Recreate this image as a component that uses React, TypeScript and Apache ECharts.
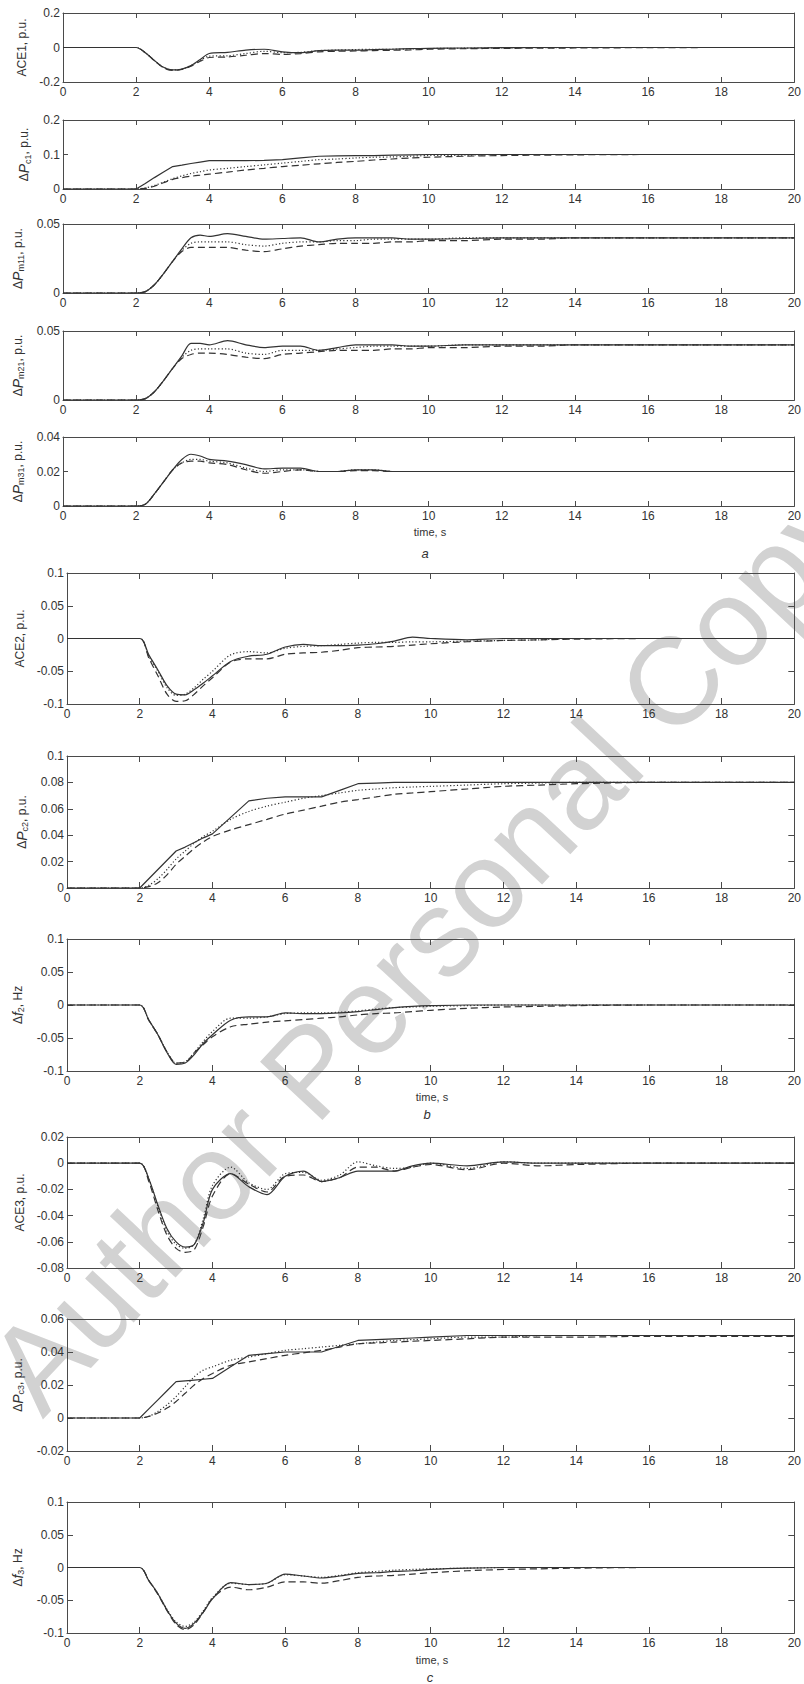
import React, { useEffect, useRef } from "react";
import * as echarts from "echarts";

// ---------- DATA ----------
// time samples, s
const T = [0, 2, 2.25, 2.5, 2.75, 3, 3.25, 3.5, 3.75, 4, 4.5, 5, 5.5, 6, 6.5, 7, 7.5, 8, 8.5, 9, 9.5, 10, 11, 12, 13, 14, 16, 18, 20];

// (a) area 1
const ace1Solid = [0, 0, -0.03, -0.075, -0.115, -0.13, -0.125, -0.105, -0.07, -0.035, -0.028, -0.015, -0.01, -0.025, -0.03, -0.018, -0.015, -0.015, -0.012, -0.01, -0.007, -0.005, -0.003, -0.001, 0, 0, 0, 0, 0];
const ace1Dotted = [0, 0, -0.03, -0.075, -0.115, -0.13, -0.125, -0.105, -0.075, -0.05, -0.048, -0.035, -0.022, -0.03, -0.028, -0.018, -0.015, -0.012, -0.01, -0.01, -0.008, -0.006, -0.004, -0.002, -0.001, 0, 0, 0, 0];
const ace1Dashed = [0, 0, -0.03, -0.077, -0.118, -0.133, -0.127, -0.108, -0.08, -0.058, -0.055, -0.045, -0.035, -0.04, -0.035, -0.025, -0.022, -0.02, -0.018, -0.016, -0.014, -0.01, -0.007, -0.005, -0.004, -0.003, -0.001, 0, 0];

const pc1Solid = [0, 0, 0.016, 0.033, 0.049, 0.065, 0.069, 0.074, 0.078, 0.082, 0.082, 0.082, 0.083, 0.085, 0.09, 0.095, 0.096, 0.097, 0.097, 0.098, 0.099, 0.1, 0.1, 0.1, 0.1, 0.1, 0.1, 0.1, 0.1];
const pc1Dotted = [0, 0, 0.003, 0.01, 0.02, 0.03, 0.038, 0.045, 0.05, 0.055, 0.06, 0.065, 0.07, 0.075, 0.08, 0.085, 0.087, 0.09, 0.092, 0.093, 0.095, 0.097, 0.098, 0.1, 0.1, 0.1, 0.1, 0.1, 0.1];
const pc1Dashed = [0, 0, 0.002, 0.008, 0.018, 0.028, 0.033, 0.037, 0.04, 0.043, 0.049, 0.055, 0.06, 0.065, 0.069, 0.073, 0.077, 0.08, 0.084, 0.087, 0.09, 0.092, 0.095, 0.097, 0.098, 0.099, 0.1, 0.1, 0.1];

const pm11Solid = [0, 0, 0.001, 0.006, 0.014, 0.023, 0.032, 0.04, 0.042, 0.041, 0.043, 0.041, 0.039, 0.0395, 0.04, 0.037, 0.039, 0.04, 0.04, 0.04, 0.039, 0.039, 0.0395, 0.04, 0.04, 0.04, 0.04, 0.04, 0.04];
const pm11Dotted = [0, 0, 0.001, 0.006, 0.014, 0.023, 0.031, 0.036, 0.037, 0.037, 0.037, 0.035, 0.034, 0.036, 0.037, 0.037, 0.038, 0.038, 0.039, 0.039, 0.039, 0.039, 0.04, 0.04, 0.04, 0.04, 0.04, 0.04, 0.04];
const pm11Dashed = [0, 0, 0.001, 0.006, 0.014, 0.023, 0.03, 0.033, 0.033, 0.033, 0.033, 0.031, 0.03, 0.032, 0.034, 0.035, 0.036, 0.036, 0.036, 0.037, 0.037, 0.038, 0.038, 0.039, 0.039, 0.04, 0.04, 0.04, 0.04];

const pm21Solid = [0, 0, 0.001, 0.006, 0.014, 0.023, 0.032, 0.041, 0.041, 0.04, 0.043, 0.04, 0.038, 0.039, 0.039, 0.036, 0.038, 0.04, 0.04, 0.04, 0.039, 0.039, 0.04, 0.04, 0.04, 0.04, 0.04, 0.04, 0.04];
const pm21Dotted = [0, 0, 0.001, 0.006, 0.014, 0.023, 0.031, 0.036, 0.037, 0.037, 0.037, 0.034, 0.033, 0.036, 0.036, 0.036, 0.037, 0.038, 0.039, 0.039, 0.039, 0.039, 0.04, 0.04, 0.04, 0.04, 0.04, 0.04, 0.04];
const pm21Dashed = [0, 0, 0.001, 0.006, 0.014, 0.023, 0.03, 0.033, 0.034, 0.034, 0.033, 0.031, 0.03, 0.033, 0.034, 0.035, 0.036, 0.036, 0.036, 0.037, 0.037, 0.038, 0.038, 0.039, 0.039, 0.04, 0.04, 0.04, 0.04];

const pm31Solid = [0, 0, 0.001, 0.007, 0.014, 0.021, 0.027, 0.03, 0.029, 0.027, 0.026, 0.024, 0.0215, 0.022, 0.022, 0.02, 0.02, 0.021, 0.021, 0.02, 0.02, 0.02, 0.02, 0.02, 0.02, 0.02, 0.02, 0.02, 0.02];
const pm31Dotted = [0, 0, 0.001, 0.007, 0.014, 0.021, 0.025, 0.027, 0.027, 0.026, 0.025, 0.022, 0.02, 0.021, 0.021, 0.02, 0.02, 0.021, 0.021, 0.02, 0.02, 0.02, 0.02, 0.02, 0.02, 0.02, 0.02, 0.02, 0.02];
const pm31Dashed = [0, 0, 0.001, 0.007, 0.014, 0.021, 0.025, 0.026, 0.026, 0.025, 0.024, 0.021, 0.019, 0.02, 0.021, 0.02, 0.02, 0.0205, 0.0205, 0.02, 0.02, 0.02, 0.02, 0.02, 0.02, 0.02, 0.02, 0.02, 0.02];

// (b) area 2
const ace2Solid = [0, 0, -0.025, -0.048, -0.072, -0.085, -0.086, -0.078, -0.068, -0.057, -0.035, -0.027, -0.024, -0.013, -0.009, -0.011, -0.011, -0.01, -0.008, -0.004, 0.002, 0, -0.002, 0, 0, 0, 0, 0, 0];
const ace2Dotted = [0, 0, -0.027, -0.05, -0.075, -0.087, -0.085, -0.075, -0.062, -0.05, -0.025, -0.02, -0.022, -0.015, -0.012, -0.011, -0.009, -0.007, -0.006, -0.006, -0.005, -0.005, -0.004, -0.003, -0.002, 0, 0, 0, 0];
const ace2Dashed = [0, 0, -0.03, -0.057, -0.085, -0.096, -0.095, -0.085, -0.072, -0.06, -0.036, -0.031, -0.031, -0.024, -0.022, -0.021, -0.018, -0.014, -0.013, -0.012, -0.01, -0.008, -0.005, -0.003, -0.002, -0.001, 0, 0, 0];

const pc2Solid = [0, 0, 0.007, 0.014, 0.021, 0.028, 0.031, 0.0345, 0.038, 0.041, 0.0535, 0.066, 0.068, 0.069, 0.069, 0.069, 0.074, 0.079, 0.0795, 0.08, 0.08, 0.08, 0.08, 0.08, 0.08, 0.08, 0.08, 0.08, 0.08];
const pc2Dotted = [0, 0, 0.002, 0.007, 0.014, 0.022, 0.028, 0.034, 0.039, 0.043, 0.052, 0.058, 0.062, 0.065, 0.068, 0.07, 0.072, 0.074, 0.075, 0.076, 0.0765, 0.077, 0.078, 0.079, 0.0795, 0.08, 0.08, 0.08, 0.08];
const pc2Dashed = [0, 0, 0.001, 0.004, 0.01, 0.018, 0.024, 0.03, 0.035, 0.039, 0.044, 0.048, 0.052, 0.056, 0.059, 0.062, 0.065, 0.067, 0.069, 0.071, 0.072, 0.073, 0.075, 0.077, 0.078, 0.079, 0.08, 0.08, 0.08];

const f2Solid = [0, 0, -0.023, -0.045, -0.072, -0.09, -0.088, -0.075, -0.058, -0.045, -0.023, -0.018, -0.018, -0.012, -0.013, -0.013, -0.012, -0.01, -0.007, -0.004, -0.002, -0.001, 0, 0, 0, 0, 0, 0, 0];
const f2Dotted = [0, 0, -0.023, -0.045, -0.071, -0.088, -0.086, -0.072, -0.055, -0.04, -0.02, -0.02, -0.018, -0.013, -0.012, -0.012, -0.011, -0.009, -0.006, -0.004, -0.003, -0.002, -0.001, 0, 0, 0, 0, 0, 0];
const f2Dashed = [0, 0, -0.023, -0.045, -0.071, -0.088, -0.087, -0.072, -0.06, -0.048, -0.033, -0.029, -0.026, -0.024, -0.022, -0.02, -0.018, -0.015, -0.013, -0.012, -0.01, -0.008, -0.005, -0.003, -0.002, -0.001, 0, 0, 0];

// (c) area 3
const ace3Solid = [0, 0, -0.012, -0.032, -0.05, -0.06, -0.064, -0.062, -0.045, -0.02, -0.008, -0.018, -0.024, -0.01, -0.006, -0.014, -0.011, -0.006, -0.006, -0.006, -0.002, 0, -0.002, 0.001, 0, 0, 0, 0, 0];
const ace3Dotted = [0, 0, -0.012, -0.033, -0.052, -0.062, -0.065, -0.062, -0.042, -0.017, -0.003, -0.015, -0.02, -0.008, -0.007, -0.013, -0.009, 0.001, -0.002, -0.004, -0.003, 0, -0.004, 0.001, 0, 0, 0, 0, 0];
const ace3Dashed = [0, 0, -0.014, -0.036, -0.055, -0.065, -0.068, -0.066, -0.048, -0.025, -0.008, -0.016, -0.022, -0.01, -0.009, -0.014, -0.011, -0.003, -0.003, -0.006, -0.003, -0.001, -0.005, 0, -0.002, -0.001, 0, 0, 0];

const pc3Solid = [0, 0, 0.0055, 0.011, 0.0165, 0.022, 0.0225, 0.023, 0.0235, 0.024, 0.031, 0.038, 0.039, 0.04, 0.04, 0.04, 0.0435, 0.047, 0.0475, 0.048, 0.0485, 0.049, 0.05, 0.05, 0.05, 0.05, 0.05, 0.05, 0.05];
const pc3Dotted = [0, 0, 0.001, 0.004, 0.008, 0.013, 0.019, 0.025, 0.029, 0.031, 0.035, 0.037, 0.039, 0.041, 0.042, 0.043, 0.044, 0.045, 0.046, 0.047, 0.0475, 0.048, 0.049, 0.049, 0.05, 0.05, 0.05, 0.05, 0.05];
const pc3Dashed = [0, 0, 0.001, 0.003, 0.006, 0.01, 0.015, 0.02, 0.024, 0.027, 0.032, 0.034, 0.036, 0.038, 0.0395, 0.041, 0.043, 0.045, 0.0455, 0.046, 0.0465, 0.047, 0.048, 0.049, 0.049, 0.049, 0.0495, 0.0495, 0.0495];

const f3Solid = [0, 0, -0.02, -0.04, -0.065, -0.085, -0.093, -0.085, -0.068, -0.048, -0.023, -0.026, -0.024, -0.01, -0.013, -0.016, -0.013, -0.009, -0.008, -0.006, -0.005, -0.003, -0.001, 0, 0, 0, 0, 0, 0];
const f3Dotted = [0, 0, -0.02, -0.04, -0.064, -0.083, -0.09, -0.083, -0.066, -0.046, -0.024, -0.026, -0.024, -0.011, -0.013, -0.015, -0.012, -0.008, -0.006, -0.004, -0.003, -0.002, -0.001, 0, 0, 0, 0, 0, 0];
const f3Dashed = [0, 0, -0.02, -0.041, -0.066, -0.087, -0.095, -0.087, -0.068, -0.047, -0.03, -0.034, -0.03, -0.022, -0.022, -0.024, -0.02, -0.015, -0.013, -0.012, -0.01, -0.008, -0.005, -0.003, -0.002, -0.001, 0, 0, 0];

// y-axis labels
const Y_LABELS = [
  "{n|ACE1, p.u.}",
  "{n|Δ}{i|P}{s|c1}{n|, p.u.}",
  "{n|Δ}{i|P}{s|m11}{n|, p.u.}",
  "{n|Δ}{i|P}{s|m21}{n|, p.u.}",
  "{n|Δ}{i|P}{s|m31}{n|, p.u.}",
  "{n|ACE2, p.u.}",
  "{n|Δ}{i|P}{s|c2}{n|, p.u.}",
  "{n|Δ}{i|f}{s|2}{n|, Hz}",
  "{n|ACE3, p.u.}",
  "{n|Δ}{i|P}{s|c3}{n|, p.u.}",
  "{n|Δ}{i|f}{s|3}{n|, Hz}",
];
// y-axis ranges [min, max, interval]
const Y_RANGES = [
  [-0.2, 0.2, 0.2],
  [0, 0.2, 0.1],
  [0, 0.05, 0.05],
  [0, 0.05, 0.05],
  [0, 0.04, 0.02],
  [-0.1, 0.1, 0.05],
  [0, 0.1, 0.02],
  [-0.1, 0.1, 0.05],
  [-0.08, 0.02, 0.02],
  [-0.02, 0.06, 0.02],
  [-0.1, 0.1, 0.05],
];
const SERIES_SETS = [
  [ace1Solid, ace1Dotted, ace1Dashed],
  [pc1Solid, pc1Dotted, pc1Dashed],
  [pm11Solid, pm11Dotted, pm11Dashed],
  [pm21Solid, pm21Dotted, pm21Dashed],
  [pm31Solid, pm31Dotted, pm31Dashed],
  [ace2Solid, ace2Dotted, ace2Dashed],
  [pc2Solid, pc2Dotted, pc2Dashed],
  [f2Solid, f2Dotted, f2Dashed],
  [ace3Solid, ace3Dotted, ace3Dashed],
  [pc3Solid, pc3Dotted, pc3Dashed],
  [f3Solid, f3Dotted, f3Dashed],
];
// solid lines of the controller outputs are piecewise linear
const SOLID_LINEAR = [false, true, false, false, false, false, true, false, false, true, false];

const X_LABEL = "time, s";
const PANEL_LETTERS = ["a", "b", "c"];

// ---------- LAYOUT / STYLE ----------
const FONT = '"Liberation Sans", Arial, sans-serif';
const LINE = "#333333";
const AXIS = "#4a4a4a";
const TXT = "#333333";

const GRIDS = [
  { left: 63, top: 13, width: 734, height: 69, gap: 27, tick: 5 },
  { left: 63, top: 120, width: 734, height: 69, gap: 27, tick: 5 },
  { left: 63, top: 224, width: 734, height: 69, gap: 27, tick: 5 },
  { left: 63, top: 331, width: 734, height: 69, gap: 27, tick: 5 },
  { left: 63, top: 437, width: 734, height: 69, gap: 27, tick: 5 },
  { left: 67, top: 573, width: 730, height: 131, gap: 34, tick: 6 },
  { left: 67, top: 756, width: 730, height: 132, gap: 34, tick: 6 },
  { left: 67, top: 939, width: 730, height: 132, gap: 36, tick: 6 },
  { left: 67, top: 1137, width: 730, height: 131, gap: 36, tick: 6 },
  { left: 67, top: 1319, width: 730, height: 132, gap: 34, tick: 6 },
  { left: 67, top: 1502, width: 730, height: 131, gap: 36, tick: 6 },
];

export default function App() {
  const ref = useRef<HTMLDivElement>(null);

  useEffect(() => {
    if (!ref.current) return;
    const chart = echarts.init(ref.current, null, { renderer: "svg" });

    const rich = {
      n: { fontSize: 12, fontFamily: FONT, color: TXT, lineHeight: 16, verticalAlign: "middle" },
      i: { fontSize: 14, fontFamily: FONT, fontStyle: "italic", color: TXT, lineHeight: 16, verticalAlign: "middle" },
      s: { fontSize: 9, fontFamily: FONT, color: TXT, lineHeight: 10, verticalAlign: "bottom" },
    };

    const grid: any[] = [];
    const xAxis: any[] = [];
    const yAxis: any[] = [];
    const series: any[] = [];

    GRIDS.forEach((g, p) => {
      grid.push({ left: g.left, top: g.top, width: g.width, height: g.height, containLabel: false });
      const axisLine = { show: true, onZero: false, lineStyle: { color: AXIS, width: 1 } };
      const tick = { show: true, inside: true, length: g.tick, lineStyle: { color: AXIS, width: 1 } };
      xAxis.push({
        type: "value", gridIndex: p, position: "bottom", min: 0, max: 20, interval: 2,
        axisLine, axisTick: tick, splitLine: { show: false },
        axisLabel: { show: true, fontSize: 12, fontFamily: FONT, color: TXT, margin: 4 },
      });
      xAxis.push({
        type: "value", gridIndex: p, position: "top", min: 0, max: 20, interval: 2,
        axisLine, axisTick: tick, splitLine: { show: false }, axisLabel: { show: false },
      });
      const [mn, mx, iv] = Y_RANGES[p];
      yAxis.push({
        type: "value", gridIndex: p, position: "left", min: mn, max: mx, interval: iv,
        axisLine, axisTick: tick, splitLine: { show: false },
        axisLabel: { show: true, fontSize: 12, fontFamily: FONT, color: TXT, margin: 3 },
        name: Y_LABELS[p], nameLocation: "middle", nameRotate: 90, nameGap: g.gap,
        nameTextStyle: { rich },
      });
      yAxis.push({
        type: "value", gridIndex: p, position: "right", min: mn, max: mx, interval: iv,
        axisLine, axisTick: tick, splitLine: { show: false }, axisLabel: { show: false },
      });

      const [sol, dot, dash] = SERIES_SETS[p];
      const mk = (vals: number[], type: any, smooth: any, z: number) => ({
        type: "line",
        xAxisIndex: 2 * p,
        yAxisIndex: 2 * p,
        data: T.map((t, i) => [t, vals[i]]),
        showSymbol: false,
        symbol: "none",
        smooth,
        z,
        lineStyle: { color: LINE, width: 1.2, type },
        silent: true,
      });
      series.push(mk(dash, [7, 4], 0.3, 3));
      series.push(mk(dot, [1.2, 2.2], 0.3, 4));
      series.push(mk(sol, "solid", SOLID_LINEAR[p] ? false : 0.3, 5));
    });

    const textEl = (x: number, y: number, text: string, font: string) => ({
      type: "text",
      x,
      y,
      z: 10,
      style: { text, font, fill: TXT, textAlign: "center", textVerticalAlign: "middle", align: "center", verticalAlign: "middle" },
    });

    const graphic = [
      {
        type: "text",
        x: 425,
        y: 947,
        rotation: (47 * Math.PI) / 180,
        z: -10,
        silent: true,
        style: {
          text: "Author Personal Copy",
          font: `124px ${FONT}`,
          fill: "#d2d2d2",
          textAlign: "center",
          textVerticalAlign: "middle",
          align: "center",
          verticalAlign: "middle",
        },
      },
      textEl(430, 532, X_LABEL, `11px ${FONT}`),
      textEl(425, 553, PANEL_LETTERS[0], `italic 13px ${FONT}`),
      textEl(432, 1097, X_LABEL, `11px ${FONT}`),
      textEl(427, 1114, PANEL_LETTERS[1], `italic 13px ${FONT}`),
      textEl(432, 1660, X_LABEL, `11px ${FONT}`),
      textEl(430, 1677, PANEL_LETTERS[2], `italic 13px ${FONT}`),
    ];

    chart.setOption({
      animation: false,
      backgroundColor: "#ffffff",
      grid,
      xAxis,
      yAxis,
      series,
      graphic,
    });

    return () => chart.dispose();
  }, []);

  return (
    <div
      ref={ref}
      style={{ position: "absolute", left: 0, top: 0, width: 804, height: 1684 }}
    />
  );
}
